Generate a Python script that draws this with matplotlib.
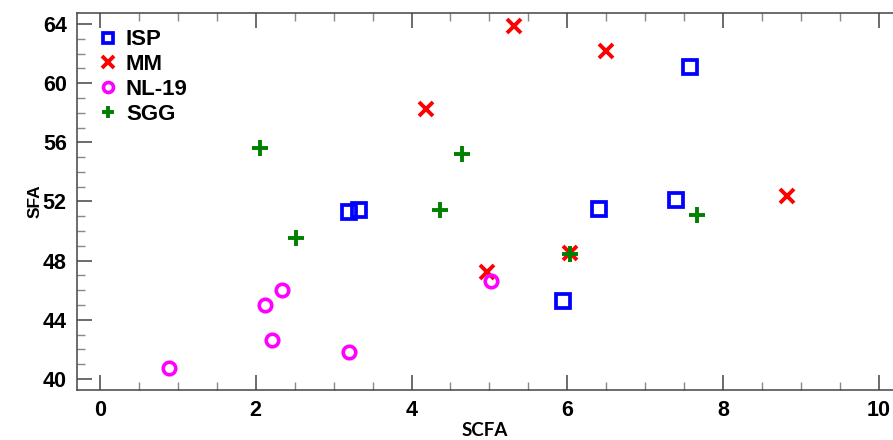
import matplotlib
matplotlib.use("Agg")
import matplotlib.pyplot as plt
from matplotlib.ticker import MultipleLocator

plt.rcParams['font.family'] = ['Liberation Sans', 'DejaVu Sans']

# data
isp_x = [3.20, 3.33, 6.40, 7.39, 5.94, 7.57]
isp_y = [51.3, 51.4, 51.5, 52.1, 45.3, 61.1]

mm_x = [5.31, 6.49, 4.19, 8.82, 4.97, 6.04]
mm_y = [63.85, 62.2, 58.25, 52.4, 47.25, 48.5]

nl_x = [0.89, 2.12, 2.21, 2.34, 3.20, 5.02]
nl_y = [40.75, 45.0, 42.65, 46.0, 41.85, 46.65]

sgg_x = [2.06, 2.52, 4.36, 4.65, 6.04, 7.67]
sgg_y = [55.6, 49.5, 51.4, 55.2, 48.45, 51.1]

fig = plt.figure(figsize=(8.93, 4.4), dpi=100)
ax = fig.add_axes([0.0857, 0.1136, 0.9143, 0.8569])

ax.plot(isp_x, isp_y, 's', ls='none', ms=9.5, mfc='none', mec='#0000ff', mew=2.7, label='ISP')
ax.plot(mm_x, mm_y, 'x', ls='none', ms=10, mec='#ff0000', mew=2.8, label='MM')
ax.plot(nl_x, nl_y, 'o', ls='none', ms=9, mfc='none', mec='#ff00ff', mew=2.6, label='NL-19')
ax.plot(sgg_x, sgg_y, '+', ls='none', ms=11, mec='#008000', mew=2.8, label='SGG')

ax.set_xlim(-0.3, 10.18)
ax.set_ylim(39.25, 64.75)
ax.xaxis.set_major_locator(MultipleLocator(2))
ax.xaxis.set_minor_locator(MultipleLocator(0.5))
ax.yaxis.set_major_locator(MultipleLocator(4))
ax.yaxis.set_minor_locator(MultipleLocator(1))

ax.tick_params(which='both', direction='in', top=True, right=False, colors='#444444')
ax.tick_params(which='major', length=11, width=1.1, labelcolor='black', pad=7)
ax.tick_params(which='minor', length=6, width=1.0, color='#888888')
for lab in ax.get_xticklabels() + ax.get_yticklabels():
    lab.set_fontweight('bold')
    lab.set_fontsize(15.5)
for s in ax.spines.values():
    s.set_color('#444444')
    s.set_linewidth(1.1)
ax.spines['right'].set_visible(False)

ax.set_xlabel('SCFA', fontsize=13.5, fontweight='bold', family=['Lato', 'DejaVu Sans'], labelpad=1)
ax.set_ylabel('SFA', fontsize=12.5, fontweight='bold', labelpad=0)

leg = ax.legend(loc='upper left', bbox_to_anchor=(0.0142, 0.980), frameon=False,
                prop={'weight': 'bold', 'size': 16}, handletextpad=0.3, labelspacing=0.17,
                borderaxespad=0, handlelength=1.0, markerscale=0.8)

fig.savefig('out.png', dpi=100)
